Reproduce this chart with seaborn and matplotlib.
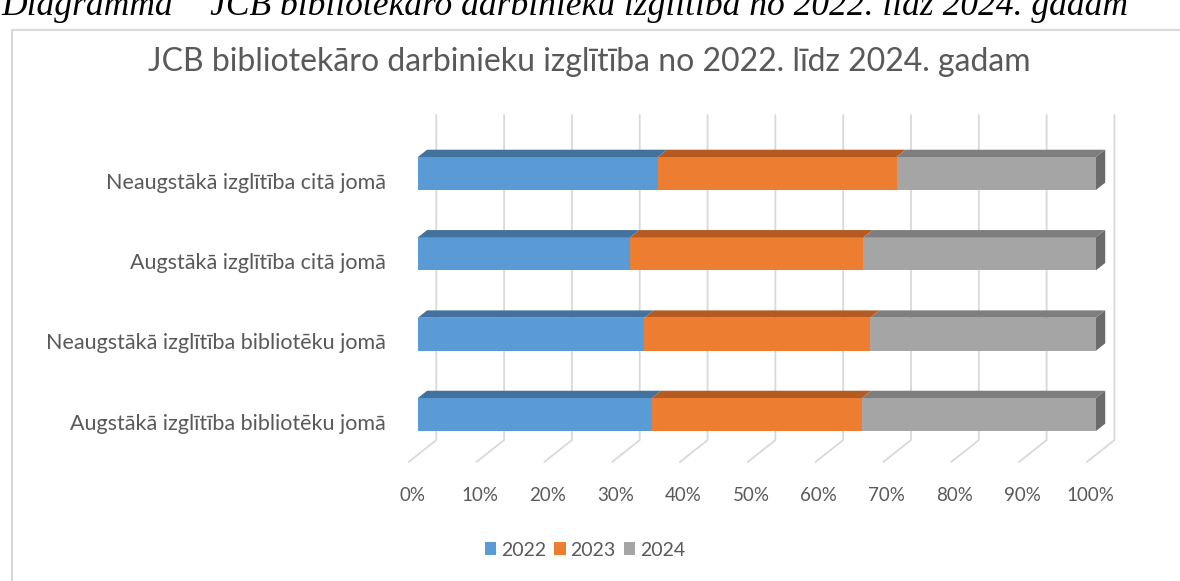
import numpy as np
import pandas as pd
import matplotlib
matplotlib.use("Agg")
import matplotlib.pyplot as plt
from matplotlib.patches import Polygon, Rectangle
import seaborn as sns

categories = [
    "Neaugstākā izglītība citā jomā",
    "Augstākā izglītība citā jomā",
    "Neaugstākā izglītība bibliotēku jomā",
    "Augstākā izglītība bibliotēku jomā",
]
years = ["2022", "2023", "2024"]
share_2022 = [0.354, 0.313, 0.334, 0.345]
share_2023 = [0.352, 0.344, 0.333, 0.310]
share_2024 = [0.294, 0.343, 0.333, 0.345]
tick_values = [0.0, 0.1, 0.2, 0.3, 0.4, 0.5, 0.6, 0.7, 0.8, 0.9, 1.0]
tick_labels = ["0%", "10%", "20%", "30%", "40%", "50%", "60%", "70%", "80%", "90%", "100%"]

front_colors = {"2022": "#5B9BD5", "2023": "#ED7D31", "2024": "#A5A5A5"}
top_colors = {"2022": "#44729F", "2023": "#B55B22", "2024": "#7E7E7E"}
side_color = "#6B6B6B"
text_color = "#595959"
grid_color = "#D9D9D9"

# long table with stacked left/right edges
shares = {"2022": share_2022, "2023": share_2023, "2024": share_2024}
rows = []
for i, cat in enumerate(categories):
    left = 0.0
    for y in years:
        v = shares[y][i]
        rows.append({"category": cat, "idx": i, "year": y, "left": left, "right": left + v})
        left += v
df = pd.DataFrame(rows)

W, H = 1180, 581
sns.set_style("white")
plt.rcParams["font.family"] = ["Lato", "DejaVu Sans"]

fig = plt.figure(figsize=(W / 100, H / 100), dpi=100)
ax = fig.add_axes([412 / W, 1 - 462 / H, 684 / W, (462 - 115) / H])

BAR_H = 0.41
DX, DY = 0.0136, -0.091   # depth offset of the fake 3D bars (data units)
Y_TOP, Y_FLOOR = -0.728, 3.591

# front faces, drawn back-to-front so cumulative bars stack
for y in reversed(years):
    sub = df[df["year"] == y]
    sns.barplot(data=sub, x="right", y="category", order=categories, orient="h",
                color=front_colors[y], saturation=1, width=BAR_H, linewidth=0,
                label=y, ax=ax, zorder=3)

handles, labels = ax.get_legend_handles_labels()
if ax.get_legend() is not None:
    ax.get_legend().remove()

# top faces and end cap
for _, r in df.iterrows():
    yt = r["idx"] - BAR_H / 2
    top = [(r["left"], yt), (r["right"], yt), (r["right"] + DX, yt + DY), (r["left"] + DX, yt + DY)]
    ax.add_patch(Polygon(top, closed=True, facecolor=top_colors[r["year"]], lw=0, zorder=3, clip_on=False))
    if r["year"] == years[-1]:
        yb = r["idx"] + BAR_H / 2
        side = [(r["right"], yt), (r["right"], yb), (r["right"] + DX, yb + DY), (r["right"] + DX, yt + DY)]
        ax.add_patch(Polygon(side, closed=True, facecolor=side_color, lw=0, zorder=3, clip_on=False))

# back wall gridlines + floor
for v in tick_values:
    ax.plot([v + 2 * DX, v + 2 * DX, v - DX], [Y_TOP, Y_FLOOR + 3 * DY, Y_FLOOR],
            color=grid_color, lw=1.3, zorder=1, clip_on=False)

ax.set_xlim(0, 1)
ax.set_ylim(Y_FLOOR, Y_TOP)
ax.set_xlabel("")
ax.set_ylabel("")
for s in ax.spines.values():
    s.set_visible(False)
ax.set_xticks(np.array(tick_values) - DX + 0.005, tick_labels)
ax.set_yticks(np.arange(len(categories)) - DY, categories)
ax.tick_params(axis="x", length=0, pad=18, labelsize=13.5, labelcolor=text_color)
ax.tick_params(axis="y", length=0, pad=19, labelsize=15.5, labelcolor=text_color)

fig.text(589 / W, 1 - 62 / H, "JCB bibliotekāro darbinieku izglītība no 2022. līdz 2024. gadam",
         ha="center", va="center", fontsize=23, color=text_color)

# document caption above the chart, cut by the top edge as in the source screenshot
fig.text(1 / W, 1 - 15 / H, "Diagramma  “JCB bibliotekāro darbinieku izglītība no 2022. līdz 2024. gadam",
         ha="left", va="baseline", fontsize=25.6, style="italic", family="Liberation Serif", color="black")

fig.add_artist(Rectangle((12 / W, -0.1), 1.2, 1 - 30 / H + 0.1, transform=fig.transFigure,
                         fill=False, edgecolor=grid_color, lw=1.5))

order = [labels.index(y) for y in years]
fig.legend([handles[k] for k in order], [labels[k] for k in order], loc="center",
           bbox_to_anchor=(585 / W, 1 - 550 / H), ncol=3, frameon=False, fontsize=14,
           labelcolor=text_color, handlelength=0.6, handleheight=0.6, handletextpad=0.25,
           columnspacing=0.4)

fig.savefig("out.png", dpi=100)
